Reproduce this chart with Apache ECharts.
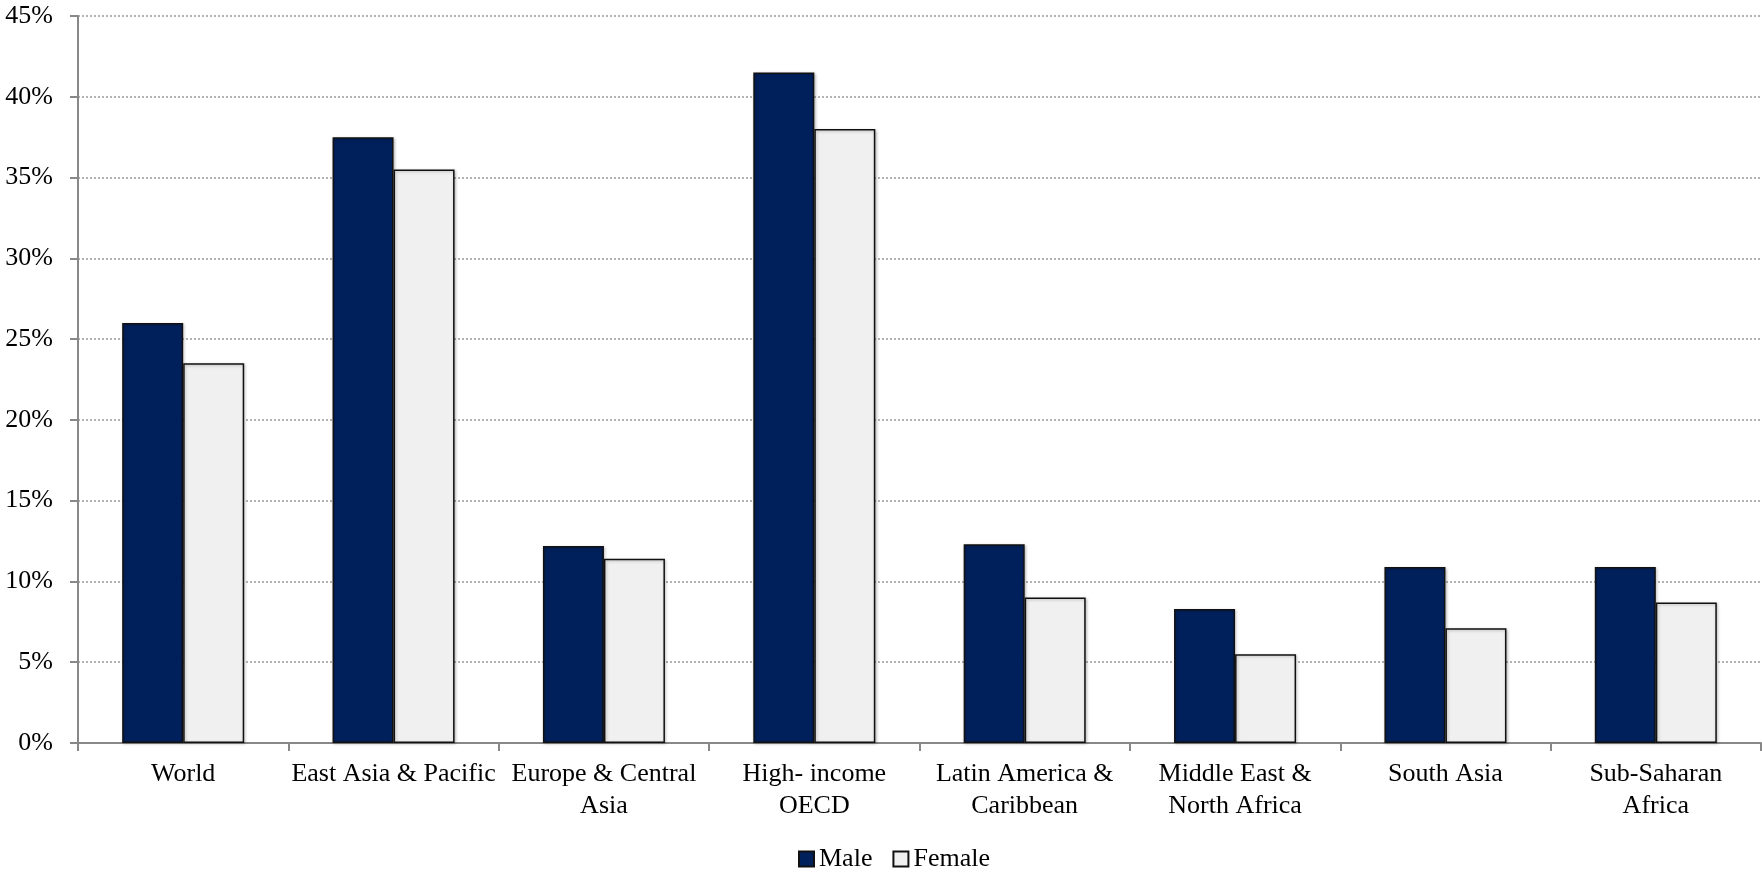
<!DOCTYPE html>
<html>
<head>
<meta charset="utf-8">
<title>Male and Female by Region</title>
<script src="https://cdn.jsdelivr.net/npm/echarts@6/dist/echarts.min.js"></script>
<style>
  html, body { margin: 0; padding: 0; background: #ffffff; }
  #chart { width: 1762px; height: 877px; }
</style>
</head>
<body>
<div id="chart"></div>
<script>
// Regions (line breaks follow the axis label wrapping)
const categories = [
  'World',
  'East Asia & Pacific',
  'Europe & Central\nAsia',
  'High- income\nOECD',
  'Latin America &\nCaribbean',
  'Middle East &\nNorth Africa',
  'South Asia',
  'Sub-Saharan\nAfrica'
];

// Shares in percent
const maleValues   = [26.0, 37.5, 12.2, 41.5, 12.3, 8.3, 10.9, 10.9];
const femaleValues = [23.5, 35.5, 11.4, 38.0,  9.0, 5.5,  7.1,  8.7];

const seriesNames = ['Male', 'Female'];
const yTicks = { min: 0, max: 45, interval: 5 };

const FONT = '"Liberation Serif", "DejaVu Serif", serif';

const chart = echarts.init(document.getElementById('chart'), null, { renderer: 'canvas' });

const barStyle = (fill) => ({
  color: fill,
  borderColor: '#111111',
  borderWidth: 1.5,
  shadowColor: 'rgba(0,0,0,0.25)',
  shadowBlur: 3,
  shadowOffsetX: 1,
  shadowOffsetY: 1
});

chart.setOption({
  animation: false,
  backgroundColor: '#ffffff',
  textStyle: { fontFamily: FONT, color: '#000000' },
  grid: { left: 78, right: 1, top: 16, bottom: 134, containLabel: false },
  legend: {
    bottom: 0,
    left: 793,
    itemWidth: 15,
    itemHeight: 15,
    itemGap: 20,
    icon: 'rect',
    textStyle: { fontFamily: FONT, fontSize: 26, color: '#000000' },
    data: seriesNames
  },
  xAxis: {
    type: 'category',
    data: categories,
    axisLine: { lineStyle: { color: '#888888', width: 2 } },
    axisTick: { show: true, length: 8, lineStyle: { color: '#888888', width: 2 } },
    axisLabel: {
      interval: 0,
      fontFamily: FONT,
      fontSize: 26,
      color: '#000000',
      lineHeight: 32,
      margin: 15
    }
  },
  yAxis: {
    type: 'value',
    min: yTicks.min,
    max: yTicks.max,
    interval: yTicks.interval,
    axisLine: { show: true, lineStyle: { color: '#888888', width: 2 } },
    axisTick: { show: true, length: 8, lineStyle: { color: '#888888', width: 2 } },
    axisLabel: {
      formatter: '{value}%',
      fontFamily: FONT,
      fontSize: 26,
      color: '#000000',
      margin: 25
    },
    splitLine: {
      show: true,
      lineStyle: { color: '#9a9a9a', width: 1.5, type: [2, 2] }
    }
  },
  series: [
    {
      name: seriesNames[0],
      type: 'bar',
      data: maleValues,
      barGap: '0%',
      barCategoryGap: '42%',
      itemStyle: barStyle('#00205c')
    },
    {
      name: seriesNames[1],
      type: 'bar',
      data: femaleValues,
      itemStyle: barStyle('#f0f0f0')
    }
  ]
});
</script>
</body>
</html>
